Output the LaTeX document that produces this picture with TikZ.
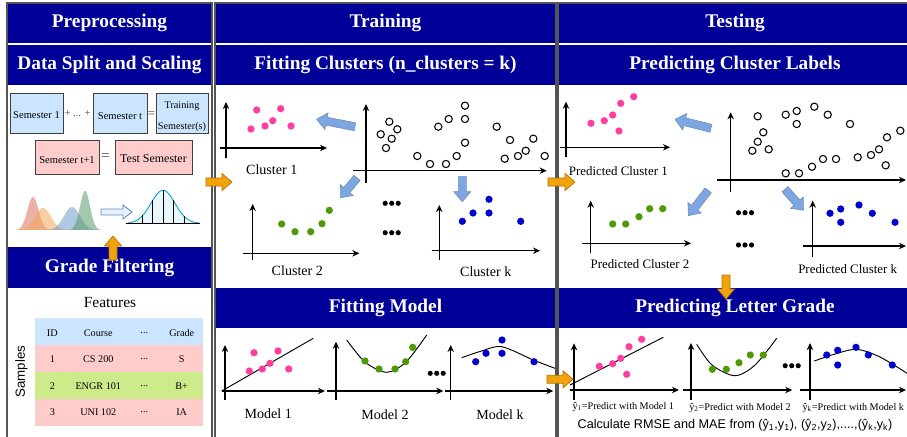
\documentclass[tikz,border=0pt]{standalone}
\usepackage{fontspec}
\setmainfont{Liberation Serif}
\setsansfont{Liberation Sans}
\usetikzlibrary{arrows.meta}

\definecolor{headblue}{RGB}{0,0,153}
\definecolor{dotpink}{HTML}{FF3D9E}
\definecolor{dotgreen}{HTML}{4E9A06}
\definecolor{dotblue}{HTML}{0000CC}
\definecolor{arrblue}{HTML}{7EA6E0}
\definecolor{arrblueline}{HTML}{6C8EBF}
\definecolor{orangefill}{HTML}{F0A30A}
\definecolor{orangeline}{HTML}{BD7000}
\definecolor{boxblue}{HTML}{CCE5FF}
\definecolor{boxpink}{HTML}{FFCCCC}
\definecolor{rowgreen}{HTML}{CDEB8B}
\definecolor{framegray}{HTML}{555555}
\definecolor{normcyan}{HTML}{10A5D0}
\definecolor{normfill}{HTML}{E8F7FC}
\definecolor{distred}{HTML}{D9735E}
\definecolor{distorange}{HTML}{F5A65B}
\definecolor{distblue}{HTML}{6F9BCB}
\definecolor{distgreen}{HTML}{5A9A6A}

% block arrow: style, centre, angle, length
\newcommand{\blockarr}[4]{%
  \begin{scope}[shift={#2},rotate=#3]
    \filldraw[#1] (-#4/2,-4) -- (#4/2-10,-4) -- (#4/2-10,-8.5) -- (#4/2,0)
      -- (#4/2-10,8.5) -- (#4/2-10,4) -- (-#4/2,4) -- cycle;
  \end{scope}}

\tikzset{
  ax/.style={line width=0.9pt,-{Stealth[length=6pt,width=5.5pt]}},
  head/.style={text=white,font=\fontsize{16.5}{19}\selectfont\bfseries},
  lab/.style={font=\fontsize{12}{14}\selectfont},
  plab/.style={font=\fontsize{11}{13}\selectfont},
  smalltxt/.style={font=\fontsize{8.7}{10}\selectfont},
  semtxt/.style={font=\fontsize{9}{10.5}\selectfont},
  orarr/.style={fill=orangefill,draw=orangeline,line width=0.6pt},
  bluarr/.style={fill=arrblue,draw=arrblueline,line width=0.5pt},
  frame/.style={draw=framegray,line width=0.9pt},
  fitline/.style={line width=0.8pt},
  hollow/.style={draw=black,fill=white,line width=0.9pt}
}

\begin{document}
\begin{tikzpicture}[x=0.03cm,y=-0.03cm]
\useasboundingbox (0,0) rectangle (907,436);
\clip (0,0) rectangle (907,436);

% заголовки
\fill[headblue] (7,3) rectangle (212,43);
\fill[headblue] (7,45) rectangle (212,85);
\fill[headblue] (7,247) rectangle (212,288);
\fill[headblue] (215,3) rectangle (556,43);
\fill[headblue] (215,45) rectangle (556,85);
\fill[headblue] (215,288) rectangle (556,328);
\fill[headblue] (558,3) rectangle (915,43);
\fill[headblue] (558,45) rectangle (915,85);
\fill[headblue] (558,288) rectangle (915,328);
\node[head] (pre) at (109.5,23) {Preprocessing};
\node[head] (split) at (109.5,65) {Data Split and Scaling};
\node[head] (filt) at (109.5,268) {Grade Filtering};
\node[head] (train) at (385.5,23) {Training};
\node[head] (fitc) at (385.5,65) {Fitting Clusters (n\_clusters = k)};
\node[head] (fitm) at (385.5,308) {Fitting Model};
\node[head] (test) at (735,23) {Testing};
\node[head] (predc) at (735,65) {Predicting Cluster Labels};
\node[head] (predg) at (735,308) {Predicting Letter Grade};

% рамки
\draw[frame] (7,3) rectangle (212,445);
\draw[frame] (215,3) rectangle (556,445);
\draw[frame] (558,3) rectangle (915,445);

% семестры
\filldraw[fill=boxblue,draw=black!75] (10,93) rectangle (63,133);
\filldraw[fill=boxblue,draw=black!75] (93,93) rectangle (147,133);
\filldraw[fill=boxblue,draw=black!75] (156,93) rectangle (208,133);
\filldraw[fill=boxpink,draw=black!75] (35,140) rectangle (99,174);
\filldraw[fill=boxpink,draw=black!75] (115,140) rectangle (192,174);
\node[semtxt] (s1) at (36.5,115) {Semester 1};
\node[semtxt,text=black!70] (plus) at (77.5,114) {+ ... +};
\node[semtxt] (st) at (120,116.5) {Semester t};
\node[font=\fontsize{11}{12}\selectfont,text=black!70] (eq1) at (151.5,114.5) {=};
\node[semtxt,align=center,font=\fontsize{8.7}{18}\selectfont] (trs) at (182,116.5) {Training\\Semester(s)};
\node[semtxt] (st1) at (67,160) {Semester t+1};
\node[font=\fontsize{13}{14}\selectfont,text=black!70] (eq2) at (105.5,157.5) {=};
\node[font=\fontsize{10.2}{12}\selectfont] (tsem) at (153.5,158.5) {Test Semester};

% распределения
\foreach \m/\s/\h/\lo/\hi/\c in {33/5.5/33/13.5/52.5/distred, 43/8/22/15/71/distorange,
    72/8/23/44/100/distblue, 85/5/39/67.5/102.5/distgreen}
  \fill[\c,opacity=0.55] plot[domain=\lo:\hi,samples=70] (\x,{230-\h*exp(-((\x-\m)^2)/(2*\s*\s))});
\filldraw[draw=arrblueline,fill=boxblue!50,line width=0.8pt] (101,209) -- (123,209) -- (123,205)
  -- (132,212) -- (123,219) -- (123,215) -- (101,215) -- cycle;
\filldraw[draw=normcyan,fill=normfill,line width=0.8pt]
  plot[domain=128:199,samples=80] (\x,{223.3-33*exp(-((\x-163)^2)/288)});
\foreach \v in {142.7,152.7,163.3,173.3,184.3}
  \draw[line width=0.7pt] (\v,223.3) -- (\v,{223.3-33*exp(-((\v-163)^2)/288)});
\draw[line width=0.8pt] (126,223.3) -- (200,223.3);

% таблица
\fill[boxblue] (35,318) rectangle (203,345);
\fill[boxpink] (35,345) rectangle (203,372);
\fill[rowgreen] (35,372) rectangle (203,399);
\fill[boxpink] (35,399) rectangle (203,425.5);
\node[font=\fontsize{13.2}{15}\selectfont] (feat) at (110,302.5) {Features};
\node[font=\sffamily\fontsize{11.3}{13}\selectfont,rotate=90] (samp) at (21.5,371.7) {Samples};
\foreach \y/\a/\b/\d [count=\i] in {332.7/ID/Course/Grade, 359/1/CS 200/S,
    385.7/2/ENGR 101/B+, 412.3/3/UNI 102/IA} {
  \node[smalltxt] (id\i) at (52.3,\y) {\a};
  \node[smalltxt] (crs\i) at (98.3,\y) {\b};
  \node[smalltxt] (dots\i) at (144.3,\y) {...};
  \node[smalltxt] (grd\i) at (181.7,\y) {\d};
}

% оси
\foreach \xa/\yb/\yt/\ya/\xs/\xe in {226/158/102/148/220/327, 252.7/260/204/253.3/243.3/359.3,
    439.3/260/205/250.7/431.7/540, 366/183/104/170.7/352.7/546.7,
    566/156.7/101.7/147.3/560/670, 730.7/191.7/112.3/180/717.3/906,
    590.7/253.3/200.7/243.3/582.3/691, 812.7/256.7/200.7/246/802.7/906,
    225/400/345/391/221.7/325, 336/400/341.7/391/327.3/443.3, 450.7/400/345/391/445/553.3,
    574/400/343.3/390/570/679, 691/400/343/390/683.3/792.3, 810/400/343/390/800/906} {
  \draw[ax] (\xa,\yb) -- (\xa,\yt);
  \draw[ax] (\xs,\ya) -- (\xe,\ya);
}

% кривые моделей
\draw[fitline] (221.7,391) -- (313.3,338.3);
\draw[fitline] plot[smooth] coordinates {(346.7,340) (365,362) (386.7,372.3) (406,362) (426.7,335)};
\draw[fitline] plot[smooth] coordinates {(461.7,357.7) (480,351.5) (501.7,346.7) (533.3,360) (555,368.3)};
\draw[fitline] (570,385) -- (663.3,337.3);
\draw[fitline] plot[smooth] coordinates {(696.7,344.3) (712,365) (735,375.7) (755,365) (776.7,338.3)};
\draw[fitline] plot[smooth] coordinates {(814.3,361) (835,354) (856.7,349.3) (880,357) (907,373.3)};

% точки
\foreach \p in {(256.7,110),(280.7,108.7),(251,129),(265,126),(272.7,120.7),(291,126),
    (591,123.3),(604.3,120.7),(612.7,115),(620.7,103.3),(633.7,96.7),(619,131),
    (254,352.7),(278,351),(249.3,371),(262.3,369),(270,363.3),(288.7,369),
    (599.3,366.3),(612.7,363.7),(620.7,358.3),(629,346.7),(641.7,339.3),(626.7,374.3)}
  \fill[dotpink] \p circle[radius=3.1pt];
\foreach \p in {(281.7,224),(295,231.7),(310.7,231.7),(322,223.7),(329.3,210.3),
    (612.7,224),(625.7,224),(639,216.7),(649.7,208.7),(662.7,208.7),
    (365,361),(379,369),(395,369),(405.7,361.7),(412.7,347.3),
    (712.3,369.3),(726.3,369.3),(739,362.7),(750.3,355),(763.3,355)}
  \fill[dotgreen] \p circle[radius=3.1pt];
\foreach \p in {(462.3,221.3),(473,213),(489,199.3),(489,213),(520.7,221.3),
    (830,213.3),(840.7,209),(840.7,222.3),(859,205),(872.3,213.3),(895,222.3),
    (475.7,361.7),(486,353.3),(502,340),(502,353.3),(534,361.7),
    (826.7,355),(837.7,350.3),(837.7,365),(856,347.3),(868.3,355),(892.3,365)}
  \fill[dotblue] \p circle[radius=3.1pt];
\foreach \p in {(389.3,121.7),(380.7,134.3),(397.3,129.3),(391.7,138.7),(386,148),
    (417.3,156),(430,164),(446,164),(456.7,156),(465,142.7),(465,119),(465,105.7),
    (448.7,119),(438.3,126.7),(496.7,126.7),(510,140),(533.3,138.7),(525.7,150.7),
    (518,156),(504.7,158.7),(544.7,156),
    (757.7,116.3),(763.3,132.3),(757.7,141.7),(752.3,150.7),(768.7,149.3),
    (785.7,114.7),(796.7,111),(796.7,124),(814.3,106.7),(827.7,114.7),(850,124),
    (785.7,173.3),(799,173.3),(812,166.7),(823,159),(836,159),(857.7,157.3),
    (871,155),(879,149.3),(887,137.3),(900.3,130.7),(885.7,165.3)}
  \draw[hollow] \p circle[radius=3.1pt];

% многоточия
\foreach \cx/\cy in {391.7/203.3, 391.7/232.7, 745/212.7, 745/245, 436.7/373.3, 791.7/365.7}
  \foreach \dx in {-6.5,0,6.5}
    \fill (\cx+\dx,\cy) circle[radius=2.2pt];

% стрелки
\blockarr{bluarr}{(335.8,123)}{169}{39}
\blockarr{bluarr}{(348.7,187.8)}{230}{26}
\blockarr{bluarr}{(462.3,189.2)}{-90}{25}
\blockarr{bluarr}{(693,123.8)}{166}{37}
\blockarr{bluarr}{(698.3,203)}{232}{32}
\blockarr{bluarr}{(794.2,199.7)}{-48.5}{28}
\blockarr{orarr}{(219,182)}{0}{26}
\blockarr{orarr}{(561.5,182)}{0}{27}
\blockarr{orarr}{(560,379.3)}{0}{26}
\blockarr{orarr}{(726,287)}{-90}{24}
\blockarr{orarr}{(113,248)}{90}{24}

% подписи
\node[lab] (c1) at (271.7,169.3) {Cluster 1};
\node[lab] (c2) at (297.3,270.7) {Cluster 2};
\node[lab] (ck) at (485.7,271.7) {Cluster k};
\node[plab] (pc1) at (618.3,170.7) {Predicted Cluster 1};
\node[plab] (pc2) at (640,264) {Predicted Cluster 2};
\node[plab] (pck) at (847.7,269.3) {Predicted Cluster k};
\node[lab] (m1) at (268.3,413.3) {Model 1};
\node[lab] (m2) at (385,414.3) {Model 2};
\node[lab] (mk) at (500,414.3) {Model k};
\node[smalltxt] (y1) at (623.3,406.7) {ŷ\textsubscript{1}=Predict with Model 1};
\node[smalltxt] (y2) at (740,407.7) {ŷ\textsubscript{2}=Predict with Model 2};
\node[smalltxt] (yk) at (853.3,407.7) {ŷ\textsubscript{k}=Predict with Model k};
\node[font=\sffamily\fontsize{10.8}{12}\selectfont] (calc) at (735,425)
  {Calculate RMSE and MAE from (ŷ\textsubscript{1},y\textsubscript{1}), (ŷ\textsubscript{2},y\textsubscript{2}),....,(ŷ\textsubscript{k},y\textsubscript{k})};
\end{tikzpicture}
\end{document}
